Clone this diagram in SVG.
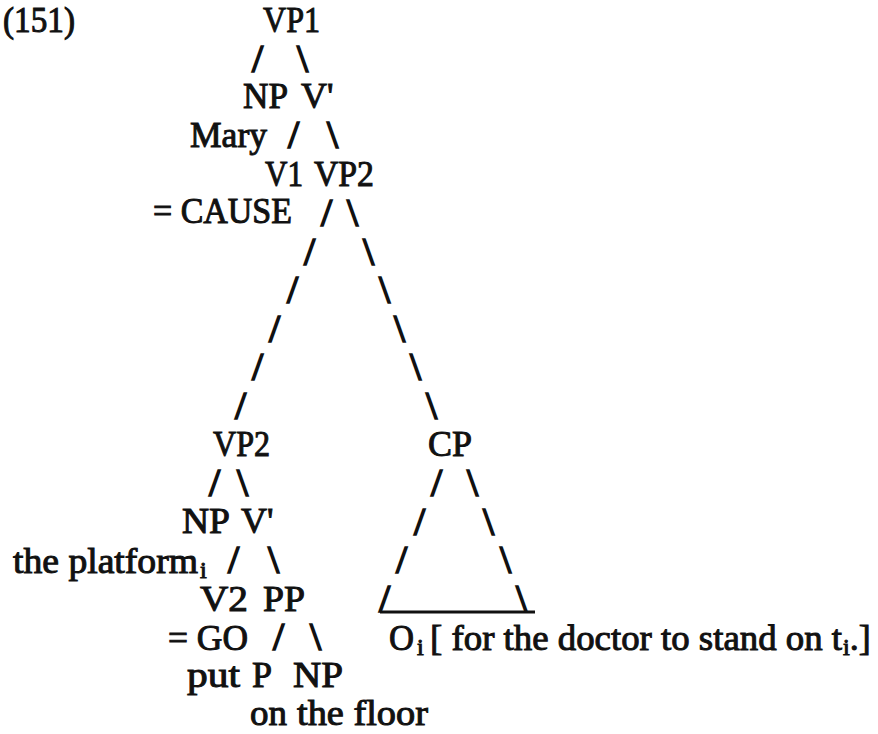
<svg xmlns="http://www.w3.org/2000/svg" width="878" height="734" viewBox="0 0 878 734">
  <style>
    text { font-family: "Liberation Serif", "DejaVu Serif", serif; fill: #111; stroke: #111; stroke-width: 1px; }
    .t { font-size: 36px; }
    .sub { font-size: 24px; }
    .s { font-size: 40px; stroke-width: 1.7px; }
    .base { stroke: #111; stroke-width: 2.8; fill: none; }
  </style>

  <rect width="878" height="734" fill="#fff"/>

  <!-- example number -->
  <g id="example-number">
    <text class="t" x="3" y="32" textLength="72" lengthAdjust="spacingAndGlyphs">(151)</text>
  </g>

  <!-- upper clause -->
  <g id="n-vp1"><text class="t" x="263" y="32" textLength="57" lengthAdjust="spacingAndGlyphs">VP1</text></g>
  <g id="n-np-mary">
    <text class="t" x="243" y="108" textLength="45" lengthAdjust="spacingAndGlyphs">NP</text>
    <text class="t" x="190" y="147" textLength="77" lengthAdjust="spacingAndGlyphs">Mary</text>
  </g>
  <g id="n-vbar1"><text class="t" x="301" y="108">V'</text></g>
  <g id="n-v1">
    <text class="t" x="265" y="186" textLength="38" lengthAdjust="spacingAndGlyphs">V1</text>
    <text class="t" x="153" y="223" textLength="139" lengthAdjust="spacingAndGlyphs">= CAUSE</text>
  </g>
  <g id="n-vp2-upper"><text class="t" x="314" y="186" textLength="60" lengthAdjust="spacingAndGlyphs">VP2</text></g>

  <!-- lower clause -->
  <g id="n-vp2-lower"><text class="t" x="213" y="456" textLength="57" lengthAdjust="spacingAndGlyphs">VP2</text></g>
  <g id="n-np-platform">
    <text class="t" x="182" y="533" textLength="48" lengthAdjust="spacingAndGlyphs">NP</text>
    <text class="t" x="13" y="573"><tspan textLength="185" lengthAdjust="spacingAndGlyphs">the platform</tspan><tspan class="sub" dx="2" dy="5">i</tspan></text>
  </g>
  <g id="n-vbar2"><text class="t" x="241" y="533">V'</text></g>
  <g id="n-v2">
    <text class="t" x="200" y="611" textLength="48" lengthAdjust="spacingAndGlyphs">V2</text>
    <text class="t" x="168" y="650" textLength="80" lengthAdjust="spacingAndGlyphs">= GO</text>
    <text class="t" x="187" y="687" textLength="53" lengthAdjust="spacingAndGlyphs">put</text>
  </g>
  <g id="n-pp"><text class="t" x="263" y="611" textLength="42" lengthAdjust="spacingAndGlyphs">PP</text></g>
  <g id="n-p">
    <text class="t" x="252" y="687">P</text>
    <text class="t" x="250" y="725" textLength="37" lengthAdjust="spacingAndGlyphs">on</text>
  </g>
  <g id="n-np-floor">
    <text class="t" x="293" y="687" textLength="50" lengthAdjust="spacingAndGlyphs">NP</text>
    <text class="t" x="297" y="725" textLength="131" lengthAdjust="spacingAndGlyphs">the floor</text>
  </g>

  <!-- CP with its unanalysed triangle -->
  <g id="n-cp">
    <text class="t" x="428" y="456" textLength="44" lengthAdjust="spacingAndGlyphs">CP</text>
    <line class="base" x1="380" y1="612" x2="535" y2="612"/>
    <text class="t" y="650"><tspan x="389" textLength="25" lengthAdjust="spacingAndGlyphs">O</tspan><tspan class="sub" x="417" dy="5">i</tspan><tspan x="430" dy="-5" textLength="412" lengthAdjust="spacingAndGlyphs">[ for the doctor to stand on t</tspan><tspan class="sub" dx="1" dy="5">i</tspan><tspan dy="-5">.]</tspan></text>
  </g>

  <!-- branches, typed as slashes -->
  <g id="connectors">
    <!-- VP1 -->
    <text class="s" x="252" y="72">/</text>
    <text class="s" x="297" y="72">\</text>
    <!-- V' upper -->
    <text class="s" x="288" y="148">/</text>
    <text class="s" x="327" y="148">\</text>
    <!-- VP2 upper: long dashed branches -->
    <text class="s" x="321" y="226">/</text>
    <text class="s" x="304" y="264.5">/</text>
    <text class="s" x="287" y="303">/</text>
    <text class="s" x="269" y="341.5">/</text>
    <text class="s" x="252" y="380">/</text>
    <text class="s" x="235" y="418.5">/</text>
    <text class="s" x="347" y="226">\</text>
    <text class="s" x="363" y="264.5">\</text>
    <text class="s" x="379" y="303">\</text>
    <text class="s" x="394" y="341.5">\</text>
    <text class="s" x="410" y="380">\</text>
    <text class="s" x="426" y="418.5">\</text>
    <!-- VP2 lower -->
    <text class="s" x="209" y="496">/</text>
    <text class="s" x="237" y="496">\</text>
    <!-- V' lower -->
    <text class="s" x="228" y="573">/</text>
    <text class="s" x="268" y="573">\</text>
    <!-- PP -->
    <text class="s" x="273" y="650">/</text>
    <text class="s" x="310" y="650">\</text>
    <!-- CP triangle sides -->
    <text class="s" x="431" y="496">/</text>
    <text class="s" x="414" y="534.5">/</text>
    <text class="s" x="396" y="573">/</text>
    <text class="s" x="379" y="611.5">/</text>
    <text class="s" x="467" y="496">\</text>
    <text class="s" x="483" y="534.5">\</text>
    <text class="s" x="500" y="573">\</text>
    <text class="s" x="516" y="611.5">\</text>
  </g>
</svg>
